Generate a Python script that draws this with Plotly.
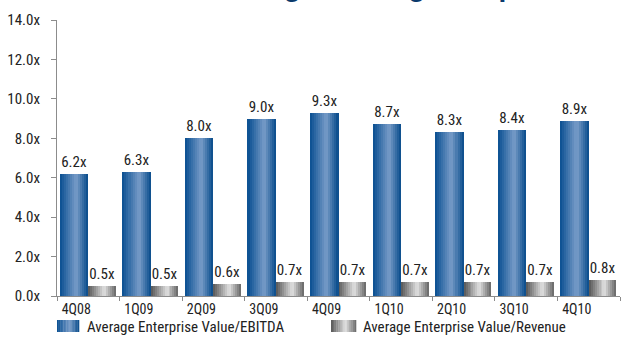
import plotly.graph_objects as go

quarters = ["4Q08", "1Q09", "2Q09", "3Q09", "4Q09", "1Q10", "2Q10", "3Q10", "4Q10"]
ev_ebitda = [6.2, 6.3, 8.0, 9.0, 9.3, 8.7, 8.3, 8.4, 8.9]
ev_revenue = [0.5, 0.5, 0.6, 0.7, 0.7, 0.7, 0.7, 0.7, 0.8]
series_names = ["Average Enterprise Value/EBITDA", "Average Enterprise Value/Revenue"]
y_ticks = [0, 2, 4, 6, 8, 10, 12, 14]
title_text = "Average Trading Multiples"

FONT = "Liberation Sans Narrow, Roboto Condensed, DejaVu Sans Condensed, sans-serif"

# plot area in pixels
W, H = 622, 349
L, R, T, B = 57, 2, 20, 53
PW, PH = W - L - R, H - T - B


def lerp(c1, c2, t):
    return "#%02x%02x%02x" % tuple(int(round(a + (b - a) * t)) for a, b in zip(c1, c2))


def grad(dark_l, light, dark_r, n):
    cols = []
    peak = 0.58
    for i in range(n):
        t = (i + 0.5) / n
        if t < peak:
            cols.append(lerp(dark_l, light, t / peak))
        else:
            cols.append(lerp(light, dark_r, (t - peak) / (1 - peak)))
    return cols


K = 14
blue_cols = grad((8, 78, 145), (120, 156, 200), (6, 74, 138), K)
grey_cols = grad((85, 85, 85), (225, 225, 225), (100, 100, 100), K)

fig = go.Figure()

specs = [
    (ev_ebitda, -0.455, 0.455, blue_cols),
    (ev_revenue, 0.0, 0.44, grey_cols),
]
for vals, off0, wid, cols in specs:
    sw = wid / K
    for i, c in enumerate(cols):
        fig.add_trace(go.Bar(
            x=quarters, y=vals, offset=off0 + i * sw, width=sw * 1.02,
            marker=dict(color=c, line=dict(width=0)), showlegend=False,
            hoverinfo="skip",
        ))
    fig.add_trace(go.Bar(
        x=quarters, y=vals, offset=off0, width=wid,
        marker=dict(color="rgba(0,0,0,0)", line=dict(width=0)),
        text=[f"{v:.1f}x" for v in vals], textposition="outside",
        textfont=dict(family=FONT, size=15, color="#222222"),
        cliponaxis=False, showlegend=False, hoverinfo="skip",
    ))

# custom legend with gradient swatches
def px2x(p):
    return (p - L) / PW


def px2y(p):
    return (H - B - p) / PH


shapes = []
annotations = []
legend_items = [(57, 79, blue_cols, 85, series_names[0]),
                (331, 356, grey_cols, 361, series_names[1])]
for x0, x1, cols, tx, name in legend_items:
    sw = (x1 - x0) / K
    for i, c in enumerate(cols):
        shapes.append(dict(type="rect", xref="paper", yref="paper",
                           x0=px2x(x0 + i * sw), x1=px2x(x0 + (i + 1) * sw + 0.3),
                           y0=px2y(332), y1=px2y(320),
                           fillcolor=c, line=dict(width=0), layer="above"))
    annotations.append(dict(text=name, xref="paper", yref="paper",
                            x=px2x(tx), y=px2y(326.5), xanchor="left", yanchor="middle",
                            showarrow=False,
                            font=dict(family=FONT, size=15, color="#222222")))

annotations.append(dict(text=f"<b>{title_text}</b>", xref="paper", yref="paper",
                        x=px2x(205), y=px2y(4), xanchor="left", yanchor="bottom",
                        showarrow=False,
                        font=dict(family="Liberation Sans, Arial, sans-serif", size=28,
                                  color="#0b3a6c")))

fig.update_layout(
    width=W, height=H,
    margin=dict(l=L, r=R, t=T, b=B, pad=0),
    paper_bgcolor="white", plot_bgcolor="white",
    barmode="overlay", bargap=0,
    showlegend=False,
    shapes=shapes, annotations=annotations,
    font=dict(family=FONT, size=15, color="#222222"),
)
fig.update_xaxes(
    type="category", showline=True, linecolor="#8c8c8c", linewidth=1,
    ticks="outside", tickson="boundaries", ticklen=4, tickcolor="#8c8c8c",
    ticklabelshift=-12, showgrid=False, zeroline=False,
    tickfont=dict(family=FONT, size=14, color="#222222"),
)
fig.update_yaxes(
    range=[0, 14], tickvals=y_ticks, ticktext=[f"{v:.1f}x" for v in y_ticks],
    showline=True, linecolor="#8c8c8c", linewidth=1,
    ticks="outside", ticklen=5, tickcolor="#8c8c8c", ticklabelstandoff=8,
    showgrid=False, zeroline=False,
    tickfont=dict(family=FONT, size=15, color="#222222"),
)

fig.write_html("out.html")
